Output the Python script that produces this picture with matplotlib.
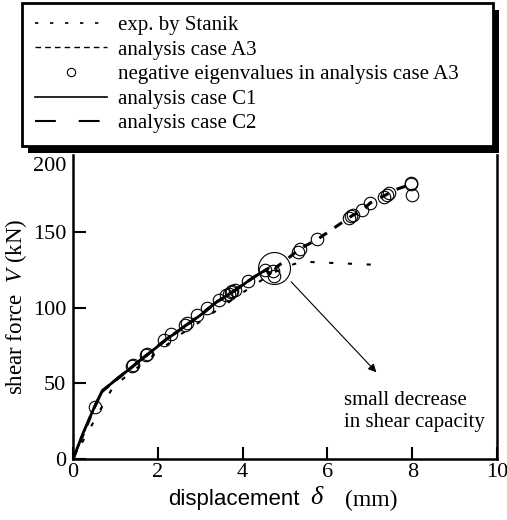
import numpy as np
import matplotlib
matplotlib.use("Agg")
from matplotlib import pyplot as plt
from matplotlib.lines import Line2D
from matplotlib.patches import Rectangle
from matplotlib.transforms import IdentityTransform

plt.rcParams['font.family'] = 'serif'
plt.rcParams['font.serif'] = ['Liberation Serif', 'DejaVu Serif']
plt.rcParams['mathtext.fontset'] = 'custom'
plt.rcParams['mathtext.rm'] = 'Liberation Serif'
plt.rcParams['mathtext.it'] = 'Liberation Serif:italic'
plt.rcParams['mathtext.sf'] = 'Liberation Sans'

# experiment (Stanik)
exp_x = [0, 0.95, 2.19, 2.56, 2.98, 3.41, 4.0, 4.6, 4.95, 5.4, 7.05]
exp_y = [0, 48, 75, 82.8, 90.5, 98.7, 110, 121, 126.5, 130.5, 128.5]

# analysis case A3
a3_x = [0, 0.5, 0.7, 1.0, 1.4, 1.8, 2.2, 2.6, 3.0, 3.4, 3.8, 4.2, 4.55, 4.7, 4.8,
        5.0, 5.34, 5.78, 6.56, 6.82, 7.01, 7.39, 7.6, 7.96]
a3_y = [0, 34, 45, 52, 61, 70, 79, 87, 95, 104, 111, 119, 125, 121, 127,
        131, 138.8, 145.5, 160.5, 164.4, 169.3, 174.8, 178, 181.5]

# negative eigenvalues in A3
eig_x = [0.51, 1.40, 1.42, 1.72, 1.74, 2.14, 2.32, 2.64, 2.70, 2.93, 3.15, 3.44,
         3.62, 3.68, 3.72, 3.76, 3.82, 4.12, 4.52, 4.75, 4.72, 5.30, 5.36, 5.76,
         6.52, 6.56, 6.60, 6.82, 7.01, 7.33, 7.40, 7.45, 7.96, 7.98, 8.0]
eig_y = [34.6, 61.6, 62, 68.9, 69.2, 78.8, 82.8, 88.7, 90, 95.4, 99.8, 105.3,
         108.5, 109.3, 110.2, 111, 112, 117.4, 125, 120.7, 124, 137, 138.8, 145.5,
         159.5, 160.5, 161.5, 164.4, 169.3, 173.5, 174.8, 176, 181.5, 182.5, 174.8]

# analysis case C1
c1_x = [0, 0.25, 0.5, 0.7, 1.0, 1.4, 1.8, 2.2, 2.6, 3.0, 3.4, 3.8, 4.2, 4.6]
c1_y = [0, 18, 34, 45.5, 52, 61, 70, 79, 87, 95, 104, 111, 119, 126]

# analysis case C2
c2_x = [0, 0.5, 0.7, 1.0, 1.4, 1.8, 2.2, 2.6, 3.0, 3.4, 3.8, 4.2, 4.6]
c2_y = [0, 34.5, 46, 52.5, 61.5, 70.5, 79.5, 87.5, 95.5, 104.5, 111.5, 119.5, 126]

xticks = [0, 2, 4, 6, 8, 10]
yticks = [0, 50, 100, 150, 200]

zoom_center = (4.75, 126)
arrow_tip = (7.2, 56)
arrow_start = (5.1, 118.5)
note_pos = (6.4, 45)

fig = plt.figure(figsize=(5.07, 5.2), dpi=100)
ax = fig.add_axes([73 / 507, 1 - 459 / 520, 424 / 507, 304 / 520])

ax.plot(exp_x, exp_y, color='k', lw=1.5, dashes=(2, 7))
ax.plot(c2_x, c2_y, color='k', lw=1.5, dashes=(8, 6))
ax.plot(c1_x, c1_y, color='k', lw=2)
ax.plot(a3_x, a3_y, color='k', lw=2.2, dashes=(3, 3))
ax.plot(eig_x, eig_y, ls='none', marker='o', ms=9, mfc='none', mec='k', mew=0.8)

ax.plot([zoom_center[0]], [zoom_center[1]], marker='o', ms=23, mfc='none', mec='k', mew=0.8)
ax.annotate('', xy=arrow_tip, xytext=arrow_start,
            arrowprops=dict(arrowstyle='-|>', color='k', lw=0.8, mutation_scale=12))
ax.text(note_pos[0], note_pos[1], 'small decrease\nin shear capacity', fontsize=15,
        va='top', ha='left', linespacing=1.2)

ax.set_xlim(0, 10)
ax.set_ylim(0, 201)
ax.set_xticks(xticks)
ax.set_yticks(yticks)
ax.tick_params(direction='in', length=9, width=1.5, labelsize=16, pad=3)
ax.tick_params(axis='y', pad=5)
for s in ax.spines.values():
    s.set_linewidth(1.8)
ax.spines['top'].set_visible(False)
ax.get_yticklabels()[-1].set_va('top')
ax.yaxis.get_major_ticks()[-1].tick1line.set_visible(False)

# x label: sans word, italic delta, serif unit
ax.text(0.535, -0.1, 'displacement', transform=ax.transAxes, ha='right', va='top',
        fontsize=16, family='Liberation Sans')
ax.text(0.559, -0.092, r'$\delta$', transform=ax.transAxes, ha='left', va='top', fontsize=19)
ax.text(0.642, -0.1, '(mm)', transform=ax.transAxes, ha='left', va='top', fontsize=17)
ax.set_ylabel(r'shear force  $V$ (kN)', fontsize=16.5, labelpad=3)

handles = [
    Line2D([], [], color='k', lw=1.2, dashes=(2, 7)),
    Line2D([], [], color='k', lw=1.0, dashes=(4, 3)),
    Line2D([], [], ls='none', marker='o', ms=6, mfc='none', mec='k', mew=0.8),
    Line2D([], [], color='k', lw=1.2),
    Line2D([], [], color='k', lw=1.5, dashes=(10, 11)),
]
labels = ['exp. by Stanik', 'analysis case A3', 'negative eigenvalues in analysis case A3',
          'analysis case C1', 'analysis case C2']
leg = fig.legend(handles, labels, loc='upper left',
                 bbox_to_anchor=(22 / 507, 1 - 3 / 520 - 0.01, 471 / 507, 0.01), mode='expand',
                 fontsize=15, frameon=True, fancybox=False, framealpha=1,
                 edgecolor='k', handlelength=3.5, handletextpad=0.53,
                 labelspacing=0.24, borderpad=0.6, borderaxespad=0)
leg.get_frame().set_linewidth(2)
leg.set_zorder(10)

fig.canvas.draw()
bb = leg.get_frame().get_window_extent()
shadow = Rectangle((bb.x0 + 6, bb.y0 - 7), bb.width, bb.height, transform=IdentityTransform(),
                   facecolor='k', edgecolor='none', zorder=9)
fig.add_artist(shadow)

fig.savefig('out.png', dpi=100)
